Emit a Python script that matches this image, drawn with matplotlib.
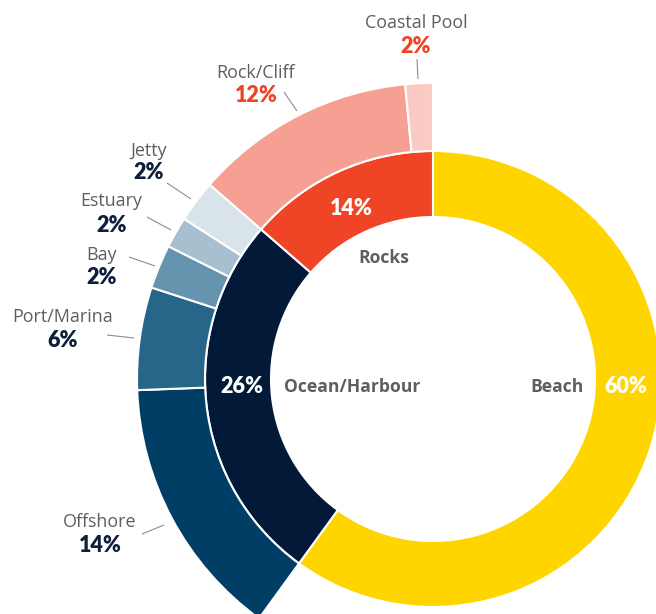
import matplotlib
matplotlib.use("Agg")
import matplotlib.pyplot as plt

# inner ring: main location groups (share of responses, %)
groups = ["Beach", "Ocean/Harbour", "Rocks"]
group_values = [60.0, 26.4, 13.6]
group_colors = ["#FFD500", "#021A38", "#EF4426"]

# outer ring: sub-locations (Beach has no breakdown)
subs = ["Offshore", "Port/Marina", "Bay", "Estuary", "Jetty", "Rock/Cliff", "Coastal Pool"]
sub_values = [14.4, 5.6, 2.4, 1.7, 2.3, 12.1, 1.5]
sub_colors = ["#003E66", "#276688", "#6693AE", "#A7BFCE", "#D8E3EA", "#F5A092", "#FACBC5"]
sub_pct_colors = ["#0D1F3C"] * 5 + ["#EF4426"] * 2

W, H = 656, 614
CX, CY = 433, 379          # ring centre in image pixels (y down)

def px(x, y):
    # image pixel -> data coords
    return x, H - y

fig = plt.figure(figsize=(W / 100, H / 100), dpi=100)
ax = fig.add_axes([0, 0, 1, 1])

ring_edge = dict(edgecolor="white", linewidth=1.5)

# inner ring
ax.pie(group_values, colors=group_colors, radius=228, center=px(CX, CY),
       startangle=90, counterclock=False,
       wedgeprops=dict(width=66, **ring_edge))

# outer ring, first slot is the (empty) beach part
outer, _ = ax.pie([group_values[0]] + sub_values, colors=["none"] + sub_colors,
                  radius=296, center=px(CX, CY), startangle=90, counterclock=False,
                  wedgeprops=dict(width=68, **ring_edge))
outer[0].set_visible(False)

ax.set_xlim(0, W)
ax.set_ylim(0, H)
ax.set_aspect("equal")
ax.set_axis_off()

grey = "#5E5E5E"
name_font = dict(family=["Open Sans", "DejaVu Sans"], size=12.9, color=grey)
pct_font = dict(family=["Lato", "DejaVu Sans"], size=15.5, fontweight="heavy")

# outer labels: (centre x, name baseline, pct baseline, leader line)
label_pos = [
    (100, 527, 552, ((142, 534), (164, 525))),
    (63, 322.5, 347, ((107, 335), (134, 338))),
    (102, 260, 284, ((129, 257), (155, 266))),
    (111.5, 206.5, 231.5, ((147, 217), (171, 230))),
    (149, 156.5, 179, ((167, 183), (191, 199))),
    (256, 78, 101.5, ((284, 92), (297, 111))),
    (416, 28, 53, ((417, 59), (418, 79))),
]

for name, val, col, (x, yn, yp, line) in zip(subs, sub_values, sub_pct_colors, label_pos):
    ax.text(*px(x, yn), name, ha="center", va="baseline", **name_font)
    ax.text(*px(x, yp), f"{round(val)}%", ha="center", va="baseline", color=col, **pct_font)
    (x0, y0), (x1, y1) = line
    ax.plot([x0, x1], [H - y0, H - y1], color="#8C8C8C", lw=0.8, solid_capstyle="butt")

# inner labels
inner_font = dict(family=["Open Sans", "DejaVu Sans"], size=12.6, fontweight="bold", color=grey)
inner_pct = dict(family=["Lato", "DejaVu Sans"], size=15.5, fontweight="heavy", color="white")

ax.text(*px(557, 392), groups[0], ha="center", va="baseline", **inner_font)
ax.text(*px(604, 393), f"{round(group_values[0])}%", ha="left", va="baseline", **inner_pct)
ax.text(*px(352, 392.5), groups[1], ha="center", va="baseline", **inner_font)
ax.text(*px(241.5, 393), f"{round(group_values[1])}%", ha="center", va="baseline", **inner_pct)
ax.text(*px(384, 263), groups[2], ha="center", va="baseline", **inner_font)
ax.text(*px(351, 215), f"{round(group_values[2])}%", ha="center", va="baseline", **inner_pct)

fig.savefig("out.png", dpi=100, facecolor="white")
